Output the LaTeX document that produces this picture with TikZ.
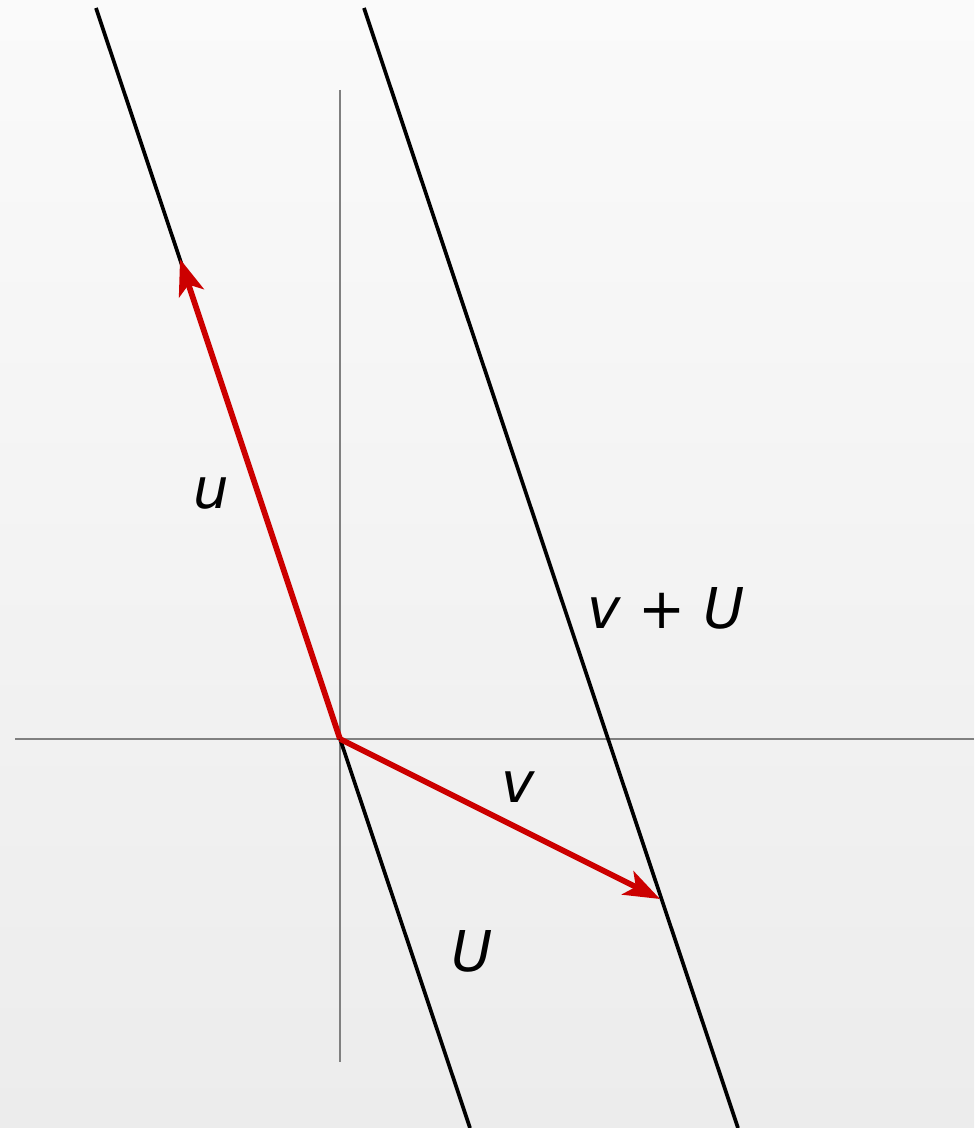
\documentclass[tikz,border=0pt]{standalone}
\usepackage{fontspec}
\setmainfont{DejaVu Sans}
\usetikzlibrary{arrows.meta}
\definecolor{vecred}{RGB}{204,0,0}
\definecolor{axisgray}{RGB}{128,128,128}
\definecolor{bgtop}{RGB}{250,250,250}
\definecolor{bgbot}{RGB}{236,236,236}
\begin{document}
\begin{tikzpicture}[x=0.02cm,y=-0.02cm,
  axis/.style={axisgray,line width=1.2pt},
  affline/.style={black,line width=2.1pt},
  vec/.style={vecred,line width=3.3pt,-{Stealth[length=36*0.02cm,width=26*0.02cm,inset=9*0.02cm]}},
  lbl/.style={font=\fontsize{32}{38}\selectfont\itshape,inner sep=0pt}]
\shade[top color=bgtop,bottom color=bgbot] (0,0) rectangle (974,1128);
\useasboundingbox (0,0) rectangle (974,1128);
\coordinate (O) at (340,739);
\coordinate (xl) at (15,739);
\coordinate (xr) at (974,739);
\coordinate (yt) at (340,90);
\coordinate (yb) at (340,1062);
\coordinate (Ut) at (96,8);
\coordinate (Ub) at (470,1128);
\coordinate (Wt) at (364,8);
\coordinate (Wb) at (738,1128);
\coordinate (u) at (180,259);
\coordinate (v) at (660,899);
\draw[axis] (xl) -- (xr);
\draw[axis] (yt) -- (yb);
\draw[affline] (Ut) -- (Ub);
\draw[affline] (Wt) -- (Wb);
\draw[vec] (O) -- (u);
\draw[vec] (O) -- (v);
\node[lbl] (lu) at (211,494) {u};
\node[lbl] (lv) at (518,787) {v};
\node[lbl] (lU) at (472,951) {U};
\node[lbl] (lvU) at (666,608) {v {\upshape +} U};
\end{tikzpicture}
\end{document}
